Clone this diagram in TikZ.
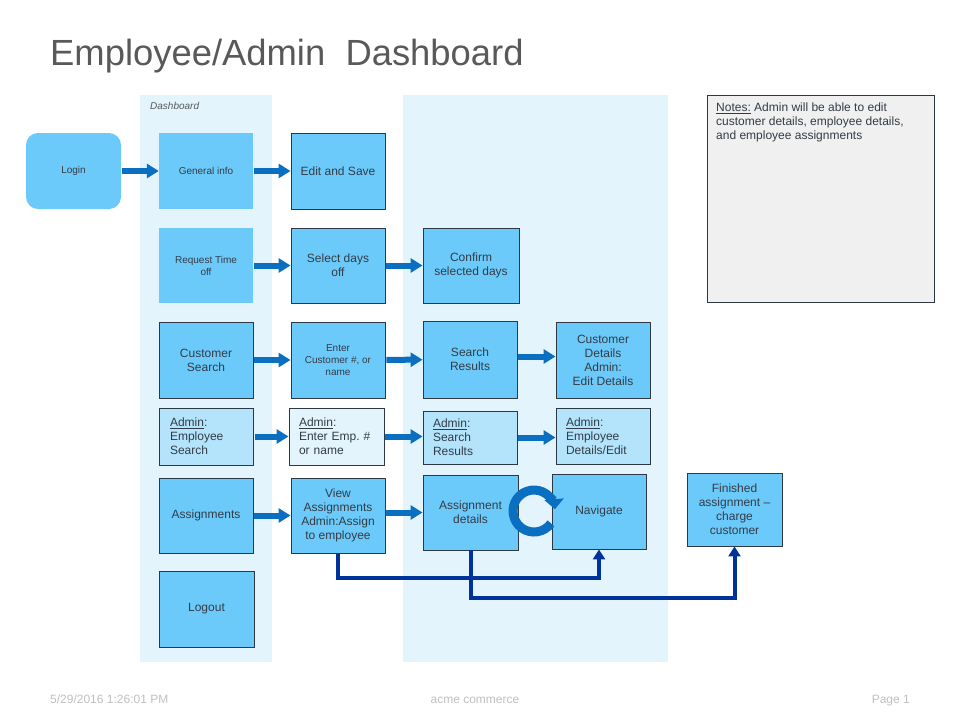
\documentclass[tikz,border=0pt]{standalone}
\usepackage{fontspec}
\setmainfont{Liberation Sans}
\usetikzlibrary{arrows.meta,calc}
\definecolor{boxc}{HTML}{6CCAFA}
\definecolor{lboxc}{HTML}{B3E4FB}
\definecolor{bandc}{HTML}{E3F4FD}
\definecolor{bordc}{HTML}{2C3844}
\definecolor{txtc}{HTML}{333C46}
\definecolor{arrc}{HTML}{0A6FC0}
\definecolor{navc}{HTML}{003399}
\definecolor{titlec}{HTML}{595959}
\definecolor{footc}{HTML}{BFBFBF}
\definecolor{notec}{HTML}{F0F0F0}
\newcommand\myfs[2]{\fontsize{#1}{#2}\selectfont}
\frenchspacing
\tikzset{
 base/.style={text=txtc, align=center, inner sep=1pt, minimum width=94pt, minimum height=76pt, font=\myfs{12}{14}},
 plain/.style={base, fill=boxc},
 bbox/.style={base, fill=boxc, draw=bordc, line width=0.9pt},
 abox/.style={base, fill=lboxc, draw=bordc, line width=0.9pt, align=left, text width=74pt, inner xsep=10pt, inner ysep=1pt, minimum height=57pt},
 small/.style={font=\myfs{10}{12}},
 blk/.style={line width=6pt, draw=arrc, -{Triangle[width=14pt,length=12pt]}, shorten <=1pt},
 nav/.style={line width=4pt, draw=navc, -{Triangle[width=12pt,length=10pt]}},
 foot/.style={inner sep=0, font=\myfs{12}{14}, text=footc},
}
\begin{document}
\begin{tikzpicture}[x=1pt,y=-1pt]
\useasboundingbox (0,0) rectangle (960,720);
% bands
\fill[bandc] (140,95) rectangle (272,662);
\fill[bandc] (403,95) rectangle (668,662);
\node[anchor=west, font=\myfs{10}{12}\itshape, text=titlec, inner sep=0] (dashlbl) at (150,106) {Dashboard};
% title
\node[anchor=base west, inner sep=0, font=\myfs{36.4}{40}, text=titlec] (title) at (50,65) {Employee/Admin\ \ Dashboard};
% notes
\node[draw=bordc, fill=notec, line width=0.9pt, minimum width=227pt, minimum height=207pt, anchor=north west] (notes) at (707,95) {};
\node[anchor=north west, align=left, font=\myfs{12}{14}, text=txtc, inner sep=0] (notestxt) at (716,103) {\underline{Notes:} Admin will be able to edit\\customer details, employee details,\\and employee assignments};
% row 1
\node[plain, rounded corners=12pt, minimum width=95pt, small] (login) at (73.5,171) {Login};
\node[plain, small] (geninfo) at (206,171) {General info};
\node[bbox] (editsave) at (338,171) {Edit and Save};
% row 2
\node[plain, small, minimum height=75pt] (reqtime) at (206,265.5) {Request Time\\off};
\node[bbox, minimum height=75pt] (seldays) at (338,265.5) {Select days\\off};
\node[bbox, minimum width=96pt, minimum height=75pt] (confirm) at (471,265.5) {Confirm\\selected days};
% row 3
\node[bbox] (custsearch) at (206,360) {Customer\\Search};
\node[bbox, small] (entercust) at (338,360) {Enter\\Customer \#, or\\name};
\node[bbox, minimum height=77pt] (searchres) at (470,359.5) {Search\\Results};
\node[bbox] (custdet) at (603,360) {Customer\\Details\\Admin:\\Edit Details};
% row 4
\node[abox, text width=73pt] (empsearch) at (206.5,436.5) {\underline{Admin}:\\Employee\\Search};
\node[abox, fill=bandc, text width=75pt] (enteremp) at (336.5,436.5) {\underline{Admin}:\\Enter Emp. \#\\or name};
\node[abox, minimum height=53pt] (adminsr) at (470,437.5) {\underline{Admin}:\\Search\\Results};
\node[abox, minimum height=56pt] (empdet) at (603,436) {\underline{Admin}:\\Employee\\Details/Edit};
% row 5
\node[bbox, minimum height=75pt] (assign) at (206,515.5) {Assignments};
\node[bbox, minimum height=75pt] (viewassign) at (338,515.5) {View\\Assignments\\Admin:Assign\\to employee};
\node[bbox, minimum width=95pt, minimum height=75pt] (assigndet) at (470.5,512.5) {Assignment\\details};
\node[bbox, minimum height=75pt] (navigate) at (599,511.5) {Navigate};
\node[bbox, minimum width=95pt, minimum height=73pt] (finished) at (734.5,509.5) {Finished\\assignment –\\charge\\customer};
% row 6
\node[bbox, minimum width=95pt] (logout) at (206.5,609) {Logout};
% block arrows
\draw[blk] (login) -- (geninfo);
\draw[blk] (geninfo) -- (editsave);
\draw[blk] (reqtime) -- (seldays);
\draw[blk] (seldays) -- (confirm);
\draw[blk] (custsearch) -- (entercust);
\draw[blk] (entercust) -- (searchres);
\draw[blk] ([yshift=3pt]searchres.east) -- ([yshift=3pt]searchres.east -| custdet.west);
\draw[blk] (empsearch.east) -- (empsearch.east -| enteremp.west);
\draw[blk] (enteremp.east) -- (enteremp.east -| adminsr.west);
\draw[blk] (adminsr.east) -- (adminsr.east -| empdet.west);
\draw[blk] (assign) -- (viewassign);
\draw[blk] (assigndet.west -| viewassign.east) -- (assigndet.west);
% cycle arrow (screen angles, explicit units)
\coordinate (cyc) at (534,511);
\draw[line width=9pt, arrc, -{Triangle[width=19pt,length=10pt]}] ([shift={(-36:21pt)}]cyc) arc[start angle=-36, end angle=-355, radius=21pt];
% navy connectors
\draw[nav] (viewassign.south) -- ++(0,25) -| (navigate.south);
\draw[nav] (assigndet.south) -- ++(0,48) -| (finished.south);
% footer
\node[foot, anchor=base west] (fdate) at (50,703) {5/29/2016 1:26:01 PM};
\node[foot, anchor=base] (fco) at (475,703) {acme commerce};
\node[foot, anchor=base east] (fpage) at (910,703) {Page 1};
\end{tikzpicture}
\end{document}
